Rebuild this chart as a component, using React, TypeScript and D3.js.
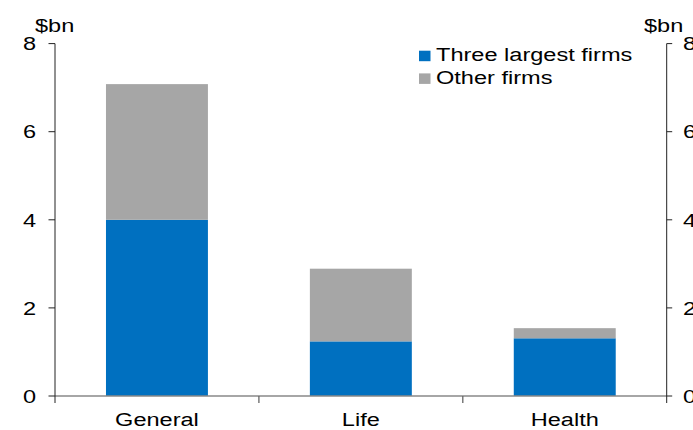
import React from "react";
import * as d3 from "d3";

const categories = ["General", "Life", "Health"];
const threeLargest = [4.0, 1.24, 1.31];
const otherFirms = [3.08, 1.65, 0.23];
const yTicks = [0, 2, 4, 6, 8];
const seriesNames = ["Three largest firms", "Other firms"];
const colors = ["#0070C0", "#A6A6A6"];

const W = 693;
const H = 430;
const SX = 1.24;
const FONT = "'Liberation Sans', Arial, sans-serif";

function SText({ x, y, anchor = "start", size = 19, children }: any) {
  return (
    <g transform={`translate(${x},${y}) scale(${SX},1)`}>
      <text x={0} y={0} textAnchor={anchor} fontSize={size} fontFamily={FONT} fill="#000">
        {children}
      </text>
    </g>
  );
}

export default function App() {
  const left = 55;
  const right = 666.7;
  const top = 43.6;
  const bottom = 396;

  const x = d3.scaleBand<string>().domain(categories).range([left, right]).paddingInner(0.5).paddingOuter(0.25);
  const y = d3.scaleLinear().domain([0, 8]).range([bottom, top]);

  const data = categories.map((c, i) => ({ cat: c, s0: threeLargest[i], s1: otherFirms[i] }));
  const stack = d3.stack<any>().keys(["s0", "s1"])(data);

  const step = x.step();
  const boundaries = [1, 2].map((k) => left + step * 0.25 - (step * 0.5) / 2 + k * step);

  return (
    <svg width={W} height={H} style={{ position: "absolute", left: 0, top: 0, background: "#fff" }}>
      {stack.map((layer, li) =>
        layer.map((d, i) => (
          <rect
            key={`${li}-${i}`}
            x={x(categories[i])}
            width={x.bandwidth()}
            y={y(d[1])}
            height={y(d[0]) - y(d[1])}
            fill={colors[li]}
          />
        ))
      )}
      {/* baseline */}
      <line x1={left} x2={right} y1={bottom} y2={bottom} stroke="#888" strokeWidth={1.3} />
      {boundaries.map((bx, i) => (
        <line key={i} x1={bx} x2={bx} y1={bottom} y2={bottom + 7} stroke="#666" strokeWidth={1.3} />
      ))}
      {/* left axis */}
      <line x1={left} x2={left} y1={top} y2={bottom + 7} stroke="#222" strokeWidth={1} />
      <line x1={right} x2={right} y1={top} y2={bottom + 7} stroke="#222" strokeWidth={1} />
      {yTicks.map((t) => (
        <g key={t}>
          <line x1={left - 6.5} x2={left} y1={y(t)} y2={y(t)} stroke="#222" strokeWidth={1} />
          <line x1={right} x2={right + 5.5} y1={y(t)} y2={y(t)} stroke="#222" strokeWidth={1} />
          <SText x={36} y={y(t) + 6.7} anchor="end">{t}</SText>
          <SText x={683} y={y(t) + 6.7} anchor="start">{t}</SText>
        </g>
      ))}
      <SText x={35} y={32} anchor="start">$bn</SText>
      <SText x={644} y={32} anchor="start">$bn</SText>
      {categories.map((c) => (
        <SText key={c} x={(x(c) as number) + x.bandwidth() / 2} y={426} anchor="middle">{c}</SText>
      ))}
      {seriesNames.map((n, i) => (
        <g key={n}>
          <rect x={419} y={50.7 + i * 22.7} width={11.5} height={10.5} fill={colors[i]} />
          <SText x={436} y={60.8 + i * 22.7} anchor="start">{n}</SText>
        </g>
      ))}
    </svg>
  );
}
